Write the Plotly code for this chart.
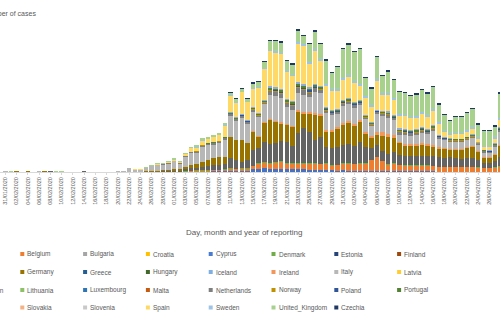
import plotly.graph_objects as go
import pandas as pd

# ---------------- categories ----------------
DATES = pd.date_range("2020-01-31", "2020-04-28", freq="D").strftime("%d/%m/%Y").tolist()
TICK_LABELS = DATES[::2]

COUNTRIES = ["Austria", "Belgium", "Bulgaria", "Croatia", "Cyprus", "Denmark", "Estonia", "Finland",
             "France", "Germany", "Greece", "Hungary", "Iceland", "Ireland", "Italy", "Latvia",
             "Liechtenstein", "Lithuania", "Luxembourg", "Malta", "Netherlands", "Norway", "Poland", "Portugal",
             "Romania", "Slovakia", "Slovenia", "Spain", "Sweden", "United_Kingdom", "Czechia"]

COLORS = ["#4472C4", "#ED7D31", "#A5A5A5", "#FFC000", "#4A7BD0", "#70AD47", "#264478", "#9E480E",
          "#636363", "#997300", "#255E91", "#43682B", "#7FAEE0", "#F1975A", "#B7B7B7", "#FFCD33",
          "#7CAFDD", "#8CC168", "#2E75B6", "#C55A11", "#7F7F7F", "#BF9000", "#2F5597", "#548235",
          "#8FAADC", "#F4B183", "#C9C9C9", "#FFD966", "#9DC3E6", "#A9D18E", "#203864"]

# ---------------- series values (cases per day) ----------------
AUSTRIA = [
    0, 0, 0, 0, 0, 0, 0, 0, 0, 0,
    0, 0, 0, 0, 0, 0, 0, 0, 0, 0,
    0, 0, 0, 0, 0, 0, 0, 0, 20, 20,
    20, 40, 60, 100, 120, 160, 180, 200, 200, 240,
    300, 260, 260, 280, 660, 680, 760, 660, 600, 600,
    560, 560, 660, 600, 500, 460, 400, 360, 340, 300,
    340, 300, 280, 260, 260, 240, 200, 200, 200, 200,
    160, 140, 140, 140, 140, 140, 120, 100, 100, 100,
    100, 100, 100, 100, 80, 80, 80, 80, 80]

BELGIUM = [
    0, 0, 0, 0, 0, 0, 0, 0, 0, 0,
    0, 0, 0, 0, 0, 0, 0, 0, 0, 0,
    0, 0, 0, 0, 0, 0, 0, 0, 20, 20,
    40, 40, 80, 140, 140, 160, 180, 200, 200, 240,
    400, 400, 400, 420, 540, 1000, 1100, 1000, 1200, 1400,
    1100, 1100, 1000, 1000, 1100, 1200, 1200, 1300, 1000, 1100,
    1400, 1440, 1320, 1400, 1400, 2160, 2860, 2000, 1320, 1560,
    1240, 1160, 1160, 1160, 1160, 1160, 1080, 960, 960, 960,
    900, 900, 900, 900, 860, 720, 720, 860, 1060]

DENMARK = [
    0, 0, 0, 0, 0, 0, 0, 0, 0, 0,
    0, 0, 0, 0, 0, 0, 0, 0, 0, 0,
    0, 0, 0, 0, 0, 0, 0, 0, 0, 0,
    0, 40, 60, 60, 80, 80, 40, 40, 60, 60,
    40, 40, 50, 40, 60, 60, 60, 110, 120, 120,
    100, 120, 140, 140, 120, 100, 100, 80, 60, 60,
    80, 70, 70, 60, 60, 60, 40, 60, 80, 70,
    80, 80, 70, 70, 80, 70, 80, 40, 40, 40,
    40, 40, 40, 40, 40, 30, 30, 40, 60]

FRANCE = [
    0, 0, 0, 0, 0, 0, 0, 1, 5, 0,
    0, 0, 0, 0, 2, 0, 0, 0, 0, 0,
    0, 0, 40, 40, 40, 60, 100, 120, 200, 200,
    260, 240, 340, 500, 500, 700, 800, 900, 1000, 1000,
    2000, 1680, 1340, 1600, 3140, 3000, 4000, 3860, 3860, 4000,
    4340, 3340, 6000, 7000, 6340, 4660, 5340, 3340, 3340, 3480,
    3660, 3800, 3600, 4340, 3200, 2340, 2340, 2000, 2000, 2200,
    2000, 1800, 1800, 1740, 1900, 1900, 1860, 2000, 1660, 1860,
    1800, 1600, 1800, 1800, 1500, 1000, 1000, 1200, 1800]

GERMANY = [
    1, 3, 2, 0, 2, 0, 1, 1, 0, 0,
    2, 0, 0, 0, 0, 0, 0, 0, 0, 0,
    0, 0, 60, 40, 40, 60, 100, 140, 200, 240,
    300, 260, 400, 600, 700, 1000, 1200, 1400, 1600, 1400,
    4200, 4000, 4340, 3400, 3660, 2400, 4000, 4800, 4340, 3660,
    3340, 3920, 4340, 3000, 3660, 5000, 4340, 3000, 3340, 3660,
    4000, 4200, 4000, 4000, 2800, 2000, 2000, 3000, 3340, 2800,
    2340, 2200, 2200, 2200, 2200, 2000, 2000, 1660, 2000, 1600,
    1600, 1800, 2000, 2200, 1600, 1060, 1060, 1400, 2200]

IRELAND = [
    0, 0, 0, 0, 0, 0, 0, 0, 0, 0,
    0, 0, 0, 0, 0, 0, 0, 0, 0, 0,
    0, 0, 0, 0, 0, 0, 0, 0, 0, 0,
    0, 0, 0, 0, 0, 0, 0, 0, 0, 0,
    0, 0, 0, 0, 80, 100, 120, 160, 160, 200,
    200, 200, 220, 240, 240, 300, 300, 300, 360, 320,
    360, 400, 400, 400, 360, 380, 660, 660, 600, 500,
    200, 300, 300, 300, 300, 240, 200, 160, 140, 140,
    140, 140, 140, 140, 120, 100, 100, 120, 140]

ITALY = [
    2, 0, 0, 0, 0, 0, 1, 0, 0, 0,
    0, 0, 0, 0, 0, 0, 0, 0, 0, 0,
    17, 60, 700, 440, 360, 800, 1000, 1200, 1100, 1300,
    1600, 1100, 2200, 2400, 2400, 3000, 3000, 2800, 2800, 3600,
    4400, 4000, 4540, 4000, 3920, 3700, 3480, 4840, 4840, 4800,
    3460, 3140, 3440, 3420, 3100, 4360, 4040, 3360, 2980, 2680,
    3300, 3400, 3200, 2940, 2440, 1960, 3660, 3340, 3340, 3000,
    1460, 1700, 1600, 1800, 2000, 2000, 2800, 1840, 1520, 1400,
    1460, 1460, 1460, 1660, 1280, 1000, 900, 1480, 2660]

NETHERLANDS = [
    0, 0, 0, 0, 0, 0, 0, 0, 0, 0,
    0, 0, 0, 0, 0, 0, 0, 0, 0, 0,
    0, 0, 0, 0, 0, 20, 20, 40, 60, 80,
    100, 80, 160, 200, 240, 260, 260, 300, 300, 300,
    300, 280, 350, 310, 440, 440, 440, 790, 880, 880,
    730, 880, 1030, 1030, 880, 730, 730, 590, 440, 440,
    590, 530, 530, 440, 440, 440, 290, 440, 590, 530,
    590, 570, 530, 530, 570, 530, 590, 290, 290, 290,
    290, 290, 290, 330, 260, 220, 220, 260, 440]

NORWAY = [
    0, 0, 0, 0, 0, 0, 0, 0, 0, 0,
    0, 0, 0, 0, 0, 0, 0, 0, 0, 0,
    0, 0, 0, 0, 0, 0, 0, 0, 0, 40,
    40, 40, 60, 100, 100, 100, 60, 60, 80, 60,
    80, 60, 80, 70, 100, 100, 100, 180, 200, 200,
    170, 200, 230, 230, 200, 170, 170, 130, 100, 100,
    130, 120, 120, 100, 100, 100, 70, 100, 130, 120,
    130, 130, 120, 120, 130, 120, 130, 70, 70, 70,
    70, 70, 70, 70, 60, 50, 50, 60, 100]

POLAND = [
    0, 0, 0, 0, 0, 0, 0, 0, 0, 0,
    0, 0, 0, 0, 0, 0, 0, 0, 0, 0,
    0, 0, 0, 0, 0, 0, 0, 0, 0, 0,
    0, 0, 0, 0, 0, 0, 0, 0, 0, 0,
    40, 60, 70, 80, 90, 110, 120, 170, 190, 210,
    180, 190, 220, 240, 210, 180, 160, 140, 110, 110,
    140, 130, 110, 110, 110, 90, 80, 110, 120, 130,
    120, 140, 130, 110, 140, 130, 120, 80, 80, 70,
    80, 70, 80, 70, 60, 60, 50, 70, 110]

PORTUGAL = [
    0, 0, 0, 0, 0, 0, 0, 0, 0, 0,
    0, 0, 0, 0, 0, 0, 0, 0, 0, 0,
    0, 0, 0, 0, 0, 0, 0, 0, 0, 0,
    0, 0, 0, 0, 0, 0, 20, 20, 40, 40,
    120, 120, 160, 140, 200, 200, 200, 360, 400, 400,
    330, 400, 470, 470, 400, 330, 330, 270, 200, 200,
    270, 240, 240, 200, 200, 200, 130, 200, 270, 240,
    270, 260, 240, 240, 260, 240, 270, 130, 130, 130,
    130, 130, 130, 150, 120, 100, 100, 120, 200]

ROMANIA = [
    0, 0, 0, 0, 0, 0, 0, 0, 0, 0,
    0, 0, 0, 0, 0, 0, 0, 0, 0, 0,
    0, 0, 0, 0, 0, 0, 0, 0, 0, 0,
    0, 0, 0, 0, 0, 0, 0, 0, 0, 0,
    60, 60, 80, 70, 100, 100, 100, 180, 200, 200,
    160, 200, 240, 240, 200, 160, 160, 140, 100, 100,
    140, 120, 120, 100, 100, 100, 60, 100, 140, 120,
    140, 130, 120, 120, 130, 120, 140, 60, 60, 60,
    60, 60, 60, 80, 60, 50, 50, 60, 100]

SPAIN = [
    0, 1, 0, 0, 0, 0, 0, 0, 0, 1,
    0, 0, 0, 0, 0, 0, 0, 0, 0, 0,
    0, 0, 0, 20, 20, 40, 80, 100, 140, 160,
    200, 200, 300, 700, 700, 900, 1000, 1200, 1200, 2400,
    3400, 3000, 4340, 3600, 3800, 5000, 6200, 7200, 7000, 7000,
    5340, 5000, 7660, 7660, 4660, 6660, 5000, 4340, 4000, 3800,
    4000, 4400, 4000, 3000, 3400, 3000, 6000, 3340, 3340, 3000,
    2660, 2600, 2400, 2400, 2600, 2500, 3000, 2340, 1000, 860,
    940, 940, 1000, 1200, 700, 600, 700, 1000, 1600]

SWEDEN = [
    0, 0, 0, 0, 0, 0, 0, 0, 0, 0,
    0, 0, 0, 0, 0, 0, 0, 0, 0, 0,
    0, 0, 0, 0, 0, 0, 0, 0, 0, 0,
    0, 0, 0, 40, 60, 60, 40, 40, 60, 60,
    40, 40, 40, 40, 80, 100, 120, 140, 160, 160,
    200, 200, 300, 280, 300, 300, 300, 280, 260, 260,
    300, 320, 300, 300, 260, 260, 280, 300, 300, 260,
    260, 280, 260, 280, 300, 260, 300, 220, 220, 200,
    220, 220, 240, 240, 200, 200, 200, 220, 260]

UNITED_KINGDOM = [
    0, 2, 0, 0, 0, 0, 0, 0, 0, 1,
    4, 0, 1, 0, 0, 0, 0, 0, 0, 0,
    0, 0, 0, 0, 0, 20, 40, 60, 60, 80,
    100, 100, 140, 160, 180, 200, 240, 260, 300, 240,
    500, 600, 660, 600, 920, 1100, 1220, 1800, 2100, 2100,
    2100, 2100, 2400, 1700, 3740, 3540, 3080, 4740, 3200, 4400,
    5920, 6120, 5720, 7060, 3720, 3400, 4400, 3400, 4400, 3740,
    4400, 4340, 4140, 4340, 4540, 4340, 4400, 3600, 3200, 2540,
    3200, 3200, 3540, 3740, 2620, 2960, 2960, 2220, 4940]

CZECHIA = [
    0, 0, 0, 0, 0, 0, 0, 0, 0, 0,
    0, 0, 0, 0, 0, 0, 0, 0, 0, 0,
    0, 0, 0, 0, 0, 0, 0, 0, 0, 0,
    0, 0, 0, 0, 0, 0, 0, 0, 0, 0,
    20, 20, 20, 20, 40, 40, 40, 60, 80, 80,
    80, 90, 80, 100, 90, 80, 100, 90, 80, 80,
    100, 110, 100, 90, 100, 80, 90, 80, 90, 80,
    80, 90, 80, 70, 90, 80, 80, 70, 70, 60,
    70, 70, 80, 70, 60, 60, 60, 70, 80]

# countries whose daily counts are too small to show at this scale
NEGLIGIBLE = [0] * len(DATES)

SERIES_BY_COUNTRY = {
    "Austria": AUSTRIA, "Belgium": BELGIUM, "Denmark": DENMARK, "France": FRANCE,
    "Germany": GERMANY, "Ireland": IRELAND, "Italy": ITALY, "Netherlands": NETHERLANDS,
    "Norway": NORWAY, "Poland": POLAND, "Portugal": PORTUGAL, "Romania": ROMANIA,
    "Spain": SPAIN, "Sweden": SWEDEN, "United_Kingdom": UNITED_KINGDOM, "Czechia": CZECHIA,
}
for name, vals in SERIES_BY_COUNTRY.items():
    assert len(vals) == len(DATES), (name, len(vals), len(DATES))

# ---------------- geometry / style ----------------
W, H = 500, 335
PLOT_TOP, PLOT_BOTTOM = 20, 172
Y_MAX = 30400
BAR_PITCH = 5.63
FIRST_BAR_X = 5.3
TEXT = "#595959"
FONT = "Liberation Sans"


def pxx(x):
    return x / W


def pxy(y):
    return (PLOT_BOTTOM - y) / (PLOT_BOTTOM - PLOT_TOP)


fig = go.Figure()
for name, color in zip(COUNTRIES, COLORS):
    fig.add_trace(go.Bar(
        x=DATES, y=SERIES_BY_COUNTRY.get(name, NEGLIGIBLE), name=name,
        marker=dict(color=color, line=dict(width=0)), showlegend=False,
    ))

# legend drawn as text + coloured squares (4 rows of 8; first column lies left of the window)
LEG_COL0, LEG_COL_STEP = -40.5, 62.8
LEG_ROWS_Y = [254, 272, 290, 307.5]
shapes, annotations = [], []
for k, (name, color) in enumerate(zip(COUNTRIES, COLORS)):
    r, c = divmod(k, 8)
    cx = LEG_COL0 + c * LEG_COL_STEP
    cy = LEG_ROWS_Y[r]
    shapes.append(dict(type="rect", xref="paper", yref="paper",
                       x0=pxx(cx - 2), x1=pxx(cx + 2), y0=pxy(cy + 2), y1=pxy(cy - 2),
                       fillcolor=color, line=dict(width=0)))
    annotations.append(dict(text=name, x=pxx(cx + 3), y=pxy(cy), xref="paper", yref="paper",
                            xanchor="left", yanchor="middle", showarrow=False,
                            font=dict(size=6.5, color=TEXT, family=FONT)))

annotations.append(dict(text="Number of cases", x=pxx(38), y=pxy(14), xref="paper", yref="paper",
                        xanchor="right", yanchor="middle", showarrow=False,
                        font=dict(size=7, color=TEXT, family=FONT)))
annotations.append(dict(text="Day, month and year of reporting", x=pxx(244), y=pxy(232),
                        xref="paper", yref="paper", xanchor="center", yanchor="middle",
                        showarrow=False, font=dict(size=8, color=TEXT, family=FONT)))

fig.update_layout(
    width=W, height=H, barmode="stack", bargap=0.2,
    margin=dict(l=0, r=0, t=PLOT_TOP, b=H - PLOT_BOTTOM, autoexpand=False),
    paper_bgcolor="white", plot_bgcolor="white",
    font=dict(family=FONT, color=TEXT),
    xaxis=dict(type="category", categoryorder="array", categoryarray=DATES,
               range=[-FIRST_BAR_X / BAR_PITCH, (W - FIRST_BAR_X) / BAR_PITCH],
               tickmode="array", tickvals=TICK_LABELS, ticktext=TICK_LABELS,
               tickangle=-90, tickfont=dict(size=5.5, color=TEXT, family=FONT),
               ticks="outside", ticklen=2, tickcolor="#D9D9D9",
               showline=True, linecolor="#D9D9D9", linewidth=1,
               showgrid=False, zeroline=False, fixedrange=True),
    yaxis=dict(range=[0, Y_MAX], visible=False, fixedrange=True),
    shapes=shapes, annotations=annotations,
    showlegend=False,
)

fig.write_html("out.html")
